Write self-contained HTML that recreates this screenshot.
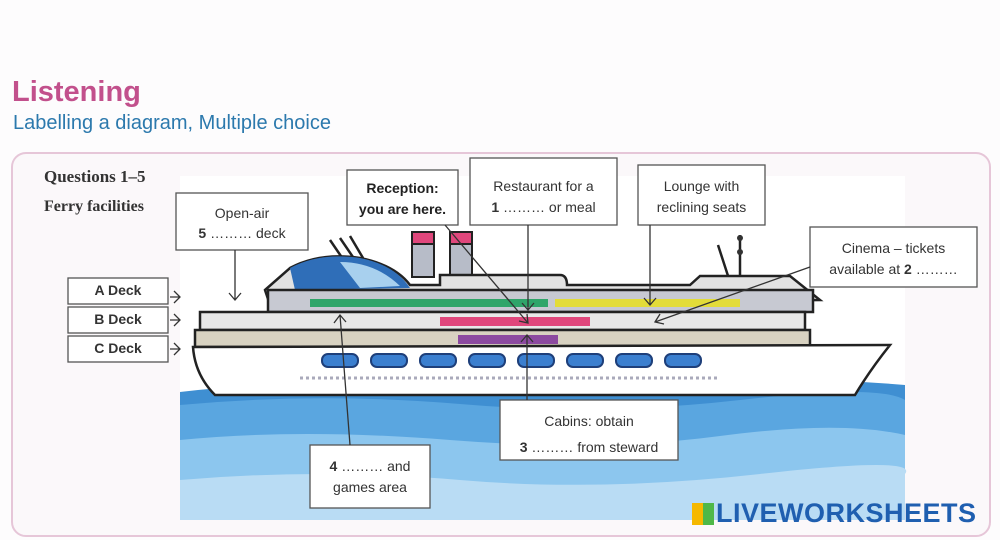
<!DOCTYPE html>
<html><head><meta charset="utf-8"><style>
html,body{margin:0;padding:0;background:#fdfcfd;}
body{width:1000px;height:540px;position:relative;overflow:hidden;font-family:"Liberation Sans",sans-serif;}
.t{position:absolute;white-space:nowrap;}
</style></head><body>
<div class="t" style="left:12px;top:76px;font-size:29px;font-weight:bold;color:#c2508c;">Listening</div>
<div class="t" style="left:13px;top:112px;font-size:20px;color:#2c79ad;">Labelling a diagram, Multiple choice</div>
<svg width="1000" height="540" style="position:absolute;left:0;top:0">
<rect x="12" y="153" width="978" height="383" rx="14" fill="#fbf8fa" stroke="#e6c6d8" stroke-width="2"/>
<rect x="180" y="176" width="725" height="344" fill="#fff"/>
<!-- sea -->
<path d="M180 392 Q300 378 420 390 T660 388 T905 385 L905 520 L180 520Z" fill="#3f8fd2"/>
<path d="M180 405 Q320 392 460 404 T740 400 T905 400 L905 520 L180 520Z" fill="#5aa6e0"/>
<path d="M180 440 Q300 428 450 440 T720 436 T905 435 L905 520 L180 520Z" fill="#8cc6ee"/>
<path d="M180 480 Q320 468 460 480 T760 474 T905 474 L905 520 L180 520Z" fill="#b9dcf4"/>
<!-- funnels -->
<rect x="412" y="232" width="22" height="45" fill="#b7bcc8" stroke="#222" stroke-width="2"/>
<rect x="412" y="232" width="22" height="12" fill="#e0477c" stroke="#222" stroke-width="2"/>
<rect x="450" y="232" width="22" height="45" fill="#b7bcc8" stroke="#222" stroke-width="2"/>
<rect x="450" y="232" width="22" height="12" fill="#e0477c" stroke="#222" stroke-width="2"/>
<path d="M330 240 L345 262 M340 238 L355 260 M350 236 L363 258" stroke="#222" stroke-width="2.5"/>
<!-- mast -->
<path d="M718 245 L730 282 M740 235 L740 280" stroke="#222" stroke-width="2.5"/>
<circle cx="740" cy="238" r="3" fill="#333"/><circle cx="740" cy="252" r="3" fill="#333"/>
<!-- upper structure -->
<path d="M265 290 L290 268 Q320 252 360 258 Q395 265 410 285 L440 285 L440 275 L560 275 Q567 275 567 285 L690 285 L700 276 L790 276 L820 300 L270 305Z" fill="#e2e2e2" stroke="#222" stroke-width="2.5"/>
<path d="M290 268 Q320 252 360 258 Q395 265 410 288 L295 290Z" fill="#2f6eb8"/>
<path d="M340 262 Q375 262 400 286 L360 288Z" fill="#a8d0ee"/>
<rect x="268" y="290" width="545" height="22" fill="#c7c9d2" stroke="#222" stroke-width="2.5"/>
<rect x="310" y="299" width="238" height="8" fill="#2fa56a"/>
<rect x="555" y="299" width="185" height="8" fill="#e3dc39"/>
<!-- middle deck -->
<rect x="200" y="312" width="605" height="18" fill="#e8e8e8" stroke="#222" stroke-width="2.5"/>
<rect x="440" y="317" width="150" height="9" fill="#e0477c"/>
<!-- lower deck -->
<rect x="195" y="330" width="615" height="17" fill="#d8d2c1" stroke="#222" stroke-width="2.5"/>
<rect x="458" y="335" width="100" height="9" fill="#8c4aa0"/>
<!-- hull -->
<path d="M193 347 L890 345 Q870 370 855 395 L215 395 Q195 375 193 347Z" fill="#fff" stroke="#222" stroke-width="2.5"/>
<g fill="#3b7fcf" stroke="#1e3f7a" stroke-width="2">
<rect x="322" y="354" width="36" height="13" rx="6"/><rect x="371" y="354" width="36" height="13" rx="6"/><rect x="420" y="354" width="36" height="13" rx="6"/><rect x="469" y="354" width="36" height="13" rx="6"/><rect x="518" y="354" width="36" height="13" rx="6"/><rect x="567" y="354" width="36" height="13" rx="6"/><rect x="616" y="354" width="36" height="13" rx="6"/><rect x="665" y="354" width="36" height="13" rx="6"/>
</g>
<path d="M300 378 L720 378" stroke="#aab" stroke-width="3" stroke-dasharray="3 3"/>
<!-- boxes -->
<g fill="#fff" stroke="#555" stroke-width="1.3">
<rect x="176" y="193" width="132" height="57"/>
<rect x="347" y="170" width="111" height="55"/>
<rect x="470" y="158" width="147" height="67"/>
<rect x="638" y="165" width="127" height="60"/>
<rect x="810" y="227" width="167" height="60"/>
<rect x="500" y="400" width="178" height="60"/>
<rect x="310" y="445" width="120" height="63"/>
<rect x="68" y="278" width="100" height="26"/>
<rect x="68" y="307" width="100" height="26"/>
<rect x="68" y="336" width="100" height="26"/>
</g>
<g stroke="#333" stroke-width="1.3" fill="none">
<path d="M235 250 L235 300 M229 293 L235 300 L241 293"/>
<path d="M528 225 L528 310 M522 303 L528 310 L534 303"/>
<path d="M445 225 L528 323 M519 321 L528 323 L527 314"/>
<path d="M650 225 L650 305 M644 298 L650 305 L656 298"/>
<path d="M810 267 L655 322 M660 314 L655 322 L664 324"/>
<path d="M527 400 L527 335 M521 342 L527 335 L533 342"/>
<path d="M350 445 L340 315 M334 323 L340 315 L346 322"/>
<path d="M170 297 L180 297 M174 291 L180 297 L174 303"/>
<path d="M170 320 L180 320 M174 314 L180 320 L174 326"/>
<path d="M170 349 L180 349 M174 343 L180 349 L174 355"/>
</g>
</svg>
<div class="t" style="left:44px;top:167px;font-family:'Liberation Serif',serif;font-weight:bold;font-size:17px;color:#333">Questions 1–5</div>
<div class="t" style="left:44px;top:198px;font-family:'Liberation Serif',serif;font-weight:bold;font-size:16px;color:#333">Ferry facilities</div>
<div style="position:absolute;left:176px;top:203px;width:132px;text-align:center;font-size:14px;color:#333;line-height:20px">Open-air<br><b>5</b> ……… deck</div>
<div style="position:absolute;left:347px;top:178px;width:111px;text-align:center;font-size:14px;font-weight:bold;color:#222;line-height:21px">Reception:<br>you are here.</div>
<div style="position:absolute;left:470px;top:176px;width:147px;text-align:center;font-size:14px;color:#333;line-height:21px">Restaurant for a<br><b>1</b> ……… or meal</div>
<div style="position:absolute;left:638px;top:176px;width:127px;text-align:center;font-size:14px;color:#333;line-height:21px">Lounge with<br>reclining seats</div>
<div style="position:absolute;left:810px;top:238px;width:167px;text-align:center;font-size:14px;color:#333;line-height:21px">Cinema – tickets<br>available at <b>2</b> ………</div>
<div style="position:absolute;left:500px;top:408px;width:178px;text-align:center;font-size:14px;color:#333;line-height:26px">Cabins: obtain<br><b>3</b> ……… from steward</div>
<div style="position:absolute;left:310px;top:456px;width:120px;text-align:center;font-size:14px;color:#333;line-height:21px"><b>4</b> ……… and<br>games area</div>
<div class="t" style="left:68px;top:282px;width:100px;text-align:center;font-size:14px;font-weight:bold;color:#333">A Deck</div>
<div class="t" style="left:68px;top:311px;width:100px;text-align:center;font-size:14px;font-weight:bold;color:#333">B Deck</div>
<div class="t" style="left:68px;top:340px;width:100px;text-align:center;font-size:14px;font-weight:bold;color:#333">C Deck</div>
<div style="position:absolute;left:692px;top:503px;width:22px;height:22px;background:linear-gradient(90deg,#f5b800 50%,#4fb848 50%);"></div>
<div class="t" style="left:716px;top:498px;font-size:27px;font-weight:bold;color:#1f5fb0;letter-spacing:0.5px">LIVEWORKSHEETS</div>
</body></html>
